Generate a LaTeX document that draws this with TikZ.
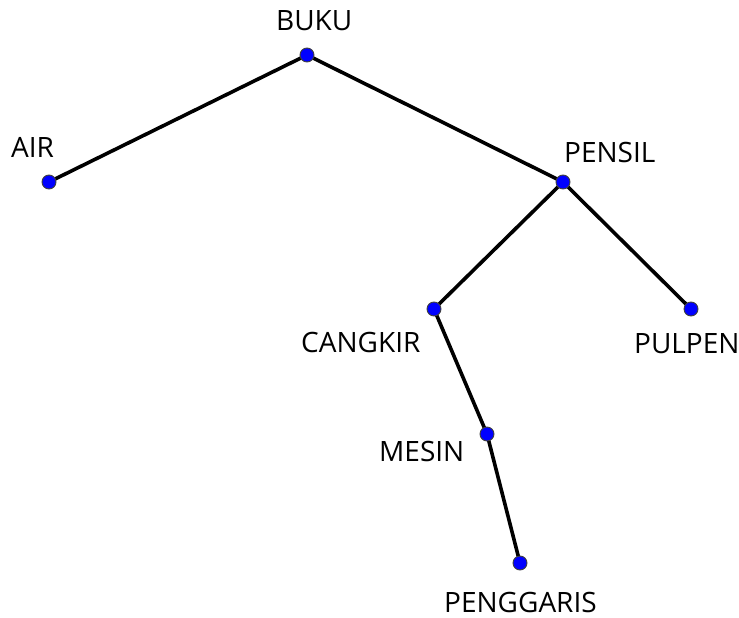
\documentclass[tikz,border=0pt]{standalone}
\usepackage{fontspec}
\setmainfont{Open Sans}
\begin{document}
\begin{tikzpicture}[x=1pt,y=-1pt,
  vertex/.style={circle,draw=black!75,line width=0.9pt,fill=blue,inner sep=0pt,minimum size=14pt},
  edge/.style={line width=3.6pt,black},
  lbl/.style={anchor=base west,inner sep=0pt,font=\fontsize{28}{32}\selectfont}]
\useasboundingbox (0,0) rectangle (739,618);
% vertices
\coordinate (buku) at (307,55);
\coordinate (air) at (49,182);
\coordinate (pensil) at (563,182);
\coordinate (cangkir) at (434,309);
\coordinate (pulpen) at (691,309);
\coordinate (mesin) at (487,434);
\coordinate (penggaris) at (520,563);
% edges
\draw[edge] (buku) -- (air);
\draw[edge] (buku) -- (pensil);
\draw[edge] (pensil) -- (cangkir);
\draw[edge] (pensil) -- (pulpen);
\draw[edge] (cangkir) -- (mesin);
\draw[edge] (mesin) -- (penggaris);
% dots
\foreach \v in {buku,air,pensil,cangkir,pulpen,mesin,penggaris}
  \node[vertex] (\v-dot) at (\v) {};
% labels
\node[lbl] (l-buku) at (276,31) {BUKU};
\node[lbl] (l-air) at (11,157) {AIR};
\node[lbl] (l-pensil) at (564,162) {PENSIL};
\node[lbl] (l-cangkir) at (301,352) {CANGKIR};
\node[lbl] (l-pulpen) at (634,353) {PULPEN};
\node[lbl] (l-mesin) at (379,461) {MESIN};
\node[lbl] (l-penggaris) at (444,612) {PENGGARIS};
\end{tikzpicture}
\end{document}
